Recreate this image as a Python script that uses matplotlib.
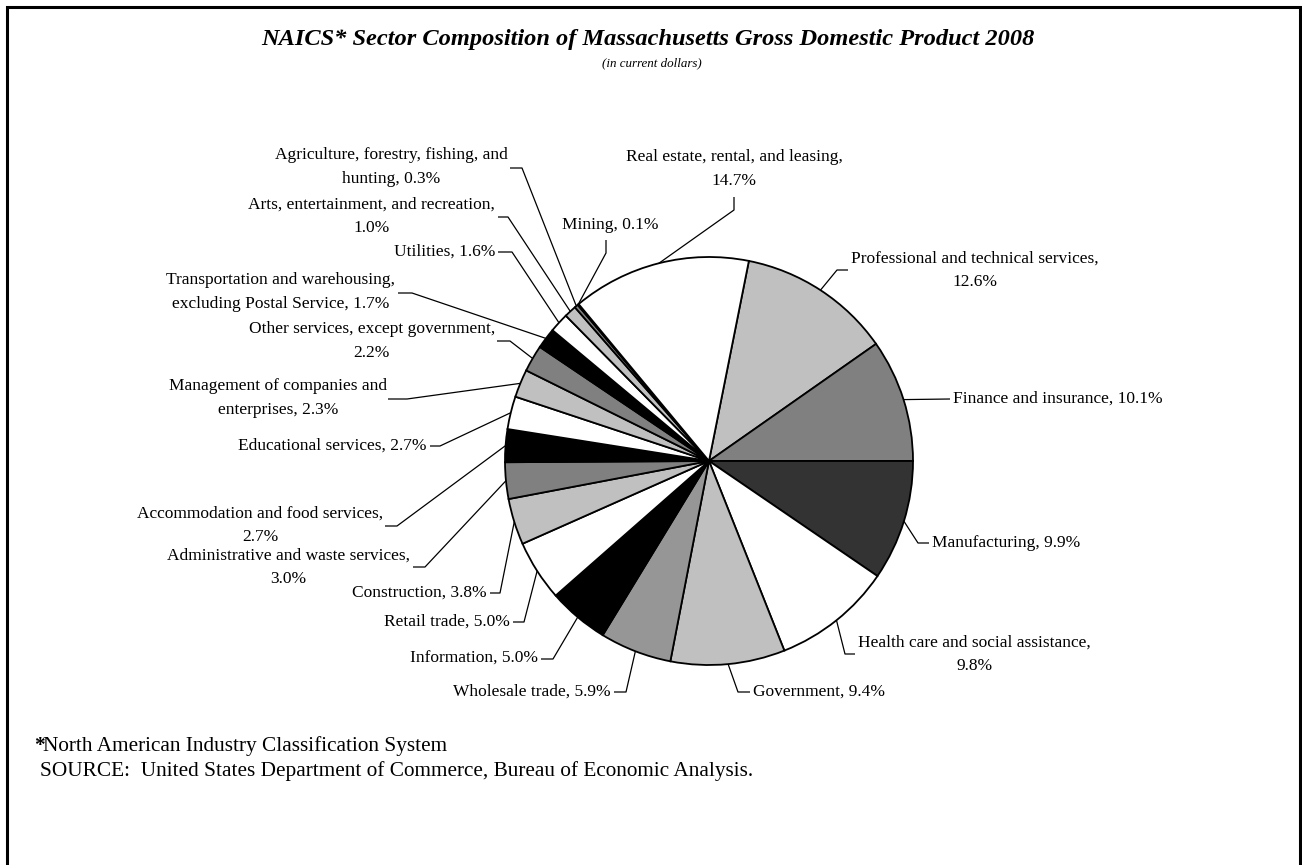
import matplotlib
matplotlib.use("Agg")
import matplotlib.pyplot as plt
from matplotlib.patches import Rectangle
import numpy as np

plt.rcParams['font.family'] = ['Liberation Serif', 'DejaVu Serif']

# ---- data (clockwise from Professional) ----
sectors = [
    "Professional and technical services",
    "Finance and insurance",
    "Manufacturing",
    "Health care and social assistance",
    "Government",
    "Wholesale trade",
    "Information",
    "Retail trade",
    "Construction",
    "Administrative and waste services",
    "Accommodation and food services",
    "Educational services",
    "Management of companies and enterprises",
    "Other services, except government",
    "Transportation and warehousing, excluding Postal Service",
    "Utilities",
    "Arts, entertainment, and recreation",
    "Agriculture, forestry, fishing, and hunting",
    "Mining",
    "Real estate, rental, and leasing",
]
shares = [12.6, 10.1, 9.9, 9.8, 9.4, 5.9, 5.0, 5.0, 3.8, 3.0,
          2.7, 2.7, 2.3, 2.2, 1.7, 1.6, 1.0, 0.3, 0.1, 14.7]
label_texts = [
    "Professional and technical services,\n12.6%",
    "Finance and insurance, 10.1%",
    "Manufacturing, 9.9%",
    "Health care and social assistance,\n9.8%",
    "Government, 9.4%",
    "Wholesale trade, 5.9%",
    "Information, 5.0%",
    "Retail trade, 5.0%",
    "Construction, 3.8%",
    "Administrative and waste services,\n3.0%",
    "Accommodation and food services,\n2.7%",
    "Educational services, 2.7%",
    "Management of companies and\nenterprises, 2.3%",
    "Other services, except government,\n2.2%",
    "Transportation and warehousing,\nexcluding Postal Service, 1.7%",
    "Utilities, 1.6%",
    "Arts, entertainment, and recreation,\n1.0%",
    "Agriculture, forestry, fishing, and\nhunting, 0.3%",
    "Mining, 0.1%",
    "Real estate, rental, and leasing,\n14.7%",
]
colors = ["#c0c0c0", "#808080", "#333333", "#ffffff", "#c0c0c0", "#969696",
          "#000000", "#ffffff", "#c0c0c0", "#808080", "#000000", "#ffffff",
          "#c0c0c0", "#808080", "#000000", "#ffffff", "#c0c0c0", "#808080",
          "#000000", "#ffffff"]

# ---- label layout (pixel coords): text anchor, ha, leader path points ----
layout = [
    ((851, 270), 'left',   [(848, 270), (837, 270)]),
    ((953, 399), 'left',   [(950, 399)]),
    ((932, 543), 'left',   [(929, 543), (918, 543)]),
    ((858, 654), 'left',   [(855, 654), (845, 654)]),
    ((753, 692), 'left',   [(750, 692), (738, 692)]),
    ((611, 692), 'right',  [(614, 692), (626, 692)]),
    ((538, 659), 'right',  [(541, 659), (553, 659)]),
    ((510, 622), 'right',  [(513, 622), (524, 622)]),
    ((487, 593), 'right',  [(490, 593), (500, 593)]),
    ((410, 567), 'right',  [(413, 567), (425, 567)]),
    ((383, 525), 'right',  [(385, 526), (397, 526)]),
    ((427, 446), 'right',  [(430, 446), (440, 446)]),
    ((387, 398), 'right',  [(388, 399), (407, 399)]),
    ((495, 341), 'right',  [(497, 341), (510, 341)]),
    ((395, 292), 'right',  [(398, 293), (412, 293)]),
    ((495, 252), 'right',  [(498, 252), (512, 252)]),
    ((495, 216), 'right',  [(498, 217), (508, 217)]),
    ((508, 167), 'right',  [(510, 168), (522, 168)]),
    ((610, 225), 'center', [(606, 240), (606, 253)]),
    ((734, 169), 'center', [(734, 197), (734, 210)]),
]

W, H = 1302, 865
fig = plt.figure(figsize=(W / 100, H / 100), dpi=100)
ax = fig.add_axes([0, 0, 1, 1])

def Y(py):
    return H - py

cx, cy, r = 709, 461, 204
total = sum(shares)
# Finance / Manufacturing boundary sits at 3 o'clock
startangle = (shares[0] + shares[1]) / total * 360.0

wedges, _ = ax.pie(shares, colors=colors, startangle=startangle,
                   counterclock=False, center=(cx, Y(cy)), radius=r,
                   wedgeprops=dict(edgecolor='black', linewidth=1.3),
                   frame=True)
ax.set_xlim(0, W)
ax.set_ylim(0, H)
ax.set_aspect('equal')
ax.axis('off')

fs = 12.5
for w, txt, (tp, ha, path) in zip(wedges, label_texts, layout):
    mid = np.deg2rad((w.theta1 + w.theta2) / 2)
    ex = cx + r * np.cos(mid)
    ey = Y(cy) + r * np.sin(mid)
    xs = [p[0] for p in path] + [ex]
    ys = [Y(p[1]) for p in path] + [ey]
    ax.plot(xs, ys, color='black', lw=0.9, solid_capstyle='butt')
    ax.text(tp[0], Y(tp[1]), txt, ha=ha, va='center', multialignment='center',
            fontsize=fs, linespacing=1.6)

# title
fig.text(648 / W, 1 - 39 / H,
         "NAICS* Sector Composition of Massachusetts Gross Domestic Product 2008",
         ha='center', va='center', fontsize=17.6, fontweight='bold',
         fontstyle='italic')
fig.text(652 / W, 1 - 63 / H, "(in current dollars)", ha='center',
         va='center', fontsize=9.4, fontstyle='italic')

# footnotes
fig.text(34 / W, 1 - 746 / H, "*", ha='left', va='center', fontsize=15.3,
         fontweight='bold')
fig.text(43 / W, 1 - 746 / H, "North American Industry Classification System",
         ha='left', va='center', fontsize=15.3)
fig.text(40 / W, 1 - 771 / H,
         "SOURCE:  United States Department of Commerce, Bureau of Economic Analysis.",
         ha='left', va='center', fontsize=15.3)

# outer frame
fig.patches.append(Rectangle((7 / W, -0.05), (1300 - 7) / W, 1 - 7 / H + 0.05,
                             transform=fig.transFigure, fill=False,
                             edgecolor='black', linewidth=2.2))

fig.savefig("out.png", dpi=100, facecolor='white')
